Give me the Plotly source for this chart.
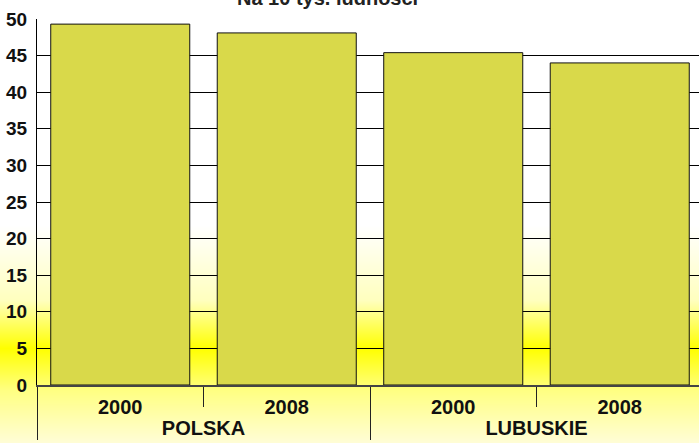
import base64, struct, zlib
import plotly.graph_objects as go

# ---- data ----
regions = ["POLSKA", "POLSKA", "LUBUSKIE", "LUBUSKIE"]
years = ["2000", "2008", "2000", "2008"]
values = [49.3, 48.1, 45.4, 44.0]
title_text = "Na 10 tys. ludności"
y_ticks = [0, 5, 10, 15, 20, 25, 30, 35, 40, 45, 50]

W, H = 699, 443
M_L, M_T, M_B, M_R = 37, 19, H - 385, 0
PW, PH = W - M_L - M_R, H - M_T - M_B

# ---- vertical gradient background (white -> yellow -> pale yellow) ----
stops = [(0, (255, 255, 255)), (225, (255, 255, 255)), (300, (255, 255, 190)),
         (348, (255, 255, 0)), (390, (255, 255, 130)), (443, (255, 253, 215))]

def col_at(y):
    for (y0, c0), (y1, c1) in zip(stops[:-1], stops[1:]):
        if y0 <= y <= y1:
            t = (y - y0) / (y1 - y0) if y1 > y0 else 0
            return tuple(int(round(a + (b - a) * t)) for a, b in zip(c0, c1))
    return stops[-1][1]

rows = b"".join(b"\x00" + bytes(col_at(y)) for y in range(H))
def chunk(tag, data):
    return struct.pack(">I", len(data)) + tag + data + struct.pack(">I", zlib.crc32(tag + data) & 0xffffffff)
png = (b"\x89PNG\r\n\x1a\n" + chunk(b"IHDR", struct.pack(">IIBBBBB", 1, H, 8, 2, 0, 0, 0))
       + chunk(b"IDAT", zlib.compress(rows)) + chunk(b"IEND", b""))
bg_uri = "data:image/png;base64," + base64.b64encode(png).decode()

font = "Liberation Sans, Arial, sans-serif"

fig = go.Figure(go.Bar(
    x=[regions, years], y=values,
    marker=dict(color="#D9D94A", line=dict(color="#111111", width=1)),
    width=0.835,
))

fig.update_layout(
    width=W, height=H,
    margin=dict(l=M_L, r=M_R, t=M_T, b=M_B, pad=0, autoexpand=False),
    paper_bgcolor="white", plot_bgcolor="rgba(0,0,0,0)",
    showlegend=False,
    images=[dict(source=bg_uri, xref="paper", yref="paper", x=-M_L / PW,
                 y=1 + M_T / PH, sizex=W / PW, sizey=H / PH,
                 xanchor="left", yanchor="top", sizing="stretch", layer="below")],
    annotations=[dict(text=title_text, xref="paper", yref="paper",
                      x=(327 - M_L) / PW, y=(PH + M_T + 2) / PH,
                      xanchor="center", yanchor="middle", showarrow=False,
                      font=dict(family=font, size=20, color="#222222", weight="bold"))],
)

fig.update_yaxes(range=[0, 50], tickvals=y_ticks, showgrid=True, gridcolor="#000000",
                 gridwidth=1, showline=True, linecolor="#000000", linewidth=1,
                 ticks="", ticklabelstandoff=5, zeroline=False, automargin=False,
                 tickfont=dict(family=font, size=19, color="#111111", weight="bold"))
fig.update_xaxes(type="multicategory", range=[-0.5, 3.476], showline=True,
                 linecolor="#444444", linewidth=2, ticks="outside", ticklen=20,
                 tickcolor="#222222", showdividers=True, dividercolor="#222222",
                 dividerwidth=1, showgrid=False, automargin=False, ticklabelstandoff=3,
                 tickfont=dict(family=font, size=20, color="#111111", weight="bold"))

fig.write_html("out.html", config={"displayModeBar": False},
               post_script="document.body.style.margin='0px';")
